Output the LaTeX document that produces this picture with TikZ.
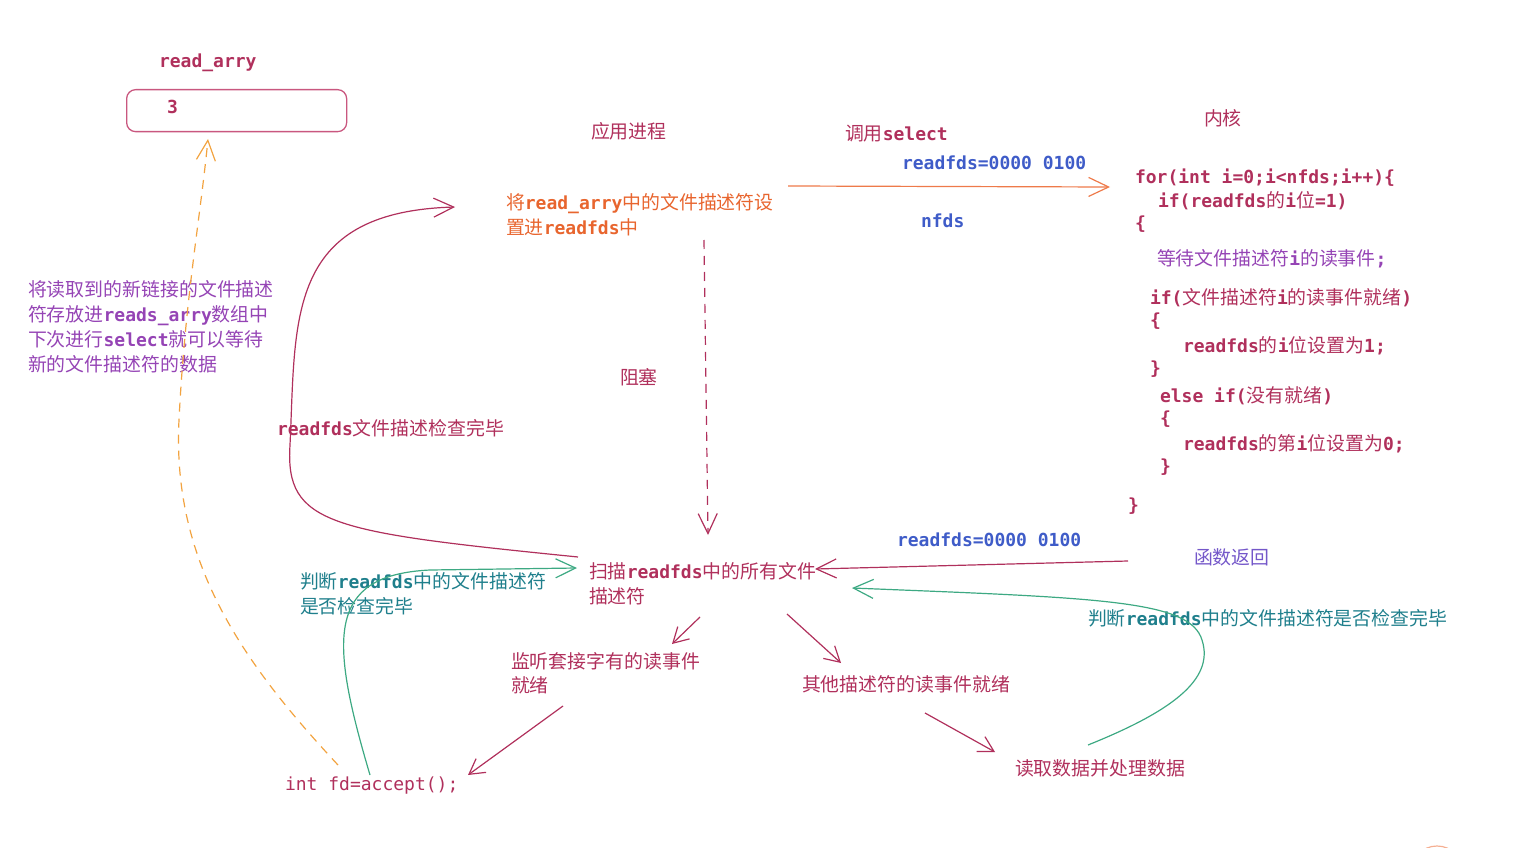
\documentclass[tikz,border=0pt]{standalone}
\usepackage{fontspec}
\usetikzlibrary{arrows.meta}
\setmainfont{DejaVu Sans Mono Bold}
\newfontfamily\cjkf{Noto Sans CJK SC}[Scale=1.05]
\newfontfamily\latf{DejaVu Sans Mono Bold}
\newfontfamily\latr{DejaVu Sans Mono}
\XeTeXinterchartokenstate=1
\newXeTeXintercharclass\cjkcls
\newcount\cjkc
\cjkc="4E00
\loop
  \XeTeXcharclass\cjkc=\cjkcls
  \advance\cjkc by 1
\ifnum\cjkc<"A000 \repeat
\XeTeXinterchartoks 0 \cjkcls = {\cjkf}
\XeTeXinterchartoks 4095 \cjkcls = {\cjkf}
\XeTeXinterchartoks \cjkcls 0 = {\latf}
\XeTeXinterchartoks \cjkcls 4095 = {\latf}
\definecolor{crim}{HTML}{B0305C}
\definecolor{orangeT}{HTML}{E8652E}
\definecolor{orangeA}{HTML}{EE7A4A}
\definecolor{blueT}{HTML}{3F5CC8}
\definecolor{purpT}{HTML}{9544B5}
\definecolor{violetT}{HTML}{7457C9}
\definecolor{tealT}{HTML}{1F7F8C}
\definecolor{greenA}{HTML}{3DA983}
\definecolor{dashO}{HTML}{F2A340}
\definecolor{boxC}{HTML}{C9577F}
\tikzset{
  txt/.style={inner sep=0pt, outer sep=0pt, anchor=west, font=\fontsize{18}{24.5}\selectfont},
  barb/.style={-{Straight Barb[length=20pt,width=19pt]}, line width=1.2pt},
  barbS/.style={-{Straight Barb[length=15pt,width=17pt]}, line width=1.2pt},
  dashline/.style={dash pattern=on 9pt off 7pt},
}
\begin{document}
\begin{tikzpicture}[x=1pt,y=-1pt]
\useasboundingbox (0,0) rectangle (1513,848);

% top-left array
\node[txt, text=crim] (ra) at (159,63) {read\_arry};
\node[draw=boxC, line width=1.3pt, rounded corners=9pt, minimum width=220pt, minimum height=42pt, anchor=north west, inner sep=0pt] (box) at (126,89) {};
\node[txt, text=crim] (three) at (167,107) {3};

% headings
\node[txt, text=crim] (app) at (591,131) {应用进程};
\node[txt, text=crim] (sel) at (845,134) {调用select};
\node[txt, text=blueT] (rf1) at (902,163) {readfds=0000 0100};
\node[txt, text=blueT] (nfds) at (921,221) {nfds};
\node[txt, text=crim] (kern) at (1204,118) {内核};

\node[txt, text=orangeT, align=left] (put) at (506,214.5) {将read\_arry中的文件描述符设\\置进readfds中};
\node[txt, text=crim] (block) at (620,377) {阻塞};
\node[txt, text=crim] (chk) at (277,428) {readfds文件描述检查完毕};
\node[txt, text=purpT, align=left, font=\fontsize{18}{25}\selectfont] (note) at (28,326.5) {将读取到的新链接的文件描述\\符存放进reads\_arry数组中\\下次进行select就可以等待\\新的文件描述符的数据};

% kernel code
\node[txt, text=crim] (c1) at (1135,178) {for(int i=0;i<nfds;i++)\{};
\node[txt, text=crim] (c2) at (1158,201) {if(readfds的i位=1)};
\node[txt, text=crim] (c3) at (1135,224) {\{};
\node[txt, text=purpT] (c4) at (1157,259) {等待文件描述符i的读事件;};
\node[txt, text=crim] (c5) at (1150,298) {if(文件描述符i的读事件就绪)};
\node[txt, text=crim] (c6) at (1150,321) {\{};
\node[txt, text=crim] (c7) at (1183,346) {readfds的i位设置为1;};
\node[txt, text=crim] (c8) at (1150,369) {\}};
\node[txt, text=crim] (c9) at (1160,396) {else if(没有就绪)};
\node[txt, text=crim] (c10) at (1160,419) {\{};
\node[txt, text=crim] (c11) at (1183,444) {readfds的第i位设置为0;};
\node[txt, text=crim] (c12) at (1160,467) {\}};
\node[txt, text=crim] (c13) at (1128,506) {\}};

% lower part
\node[txt, text=tealT, align=left] (judge1) at (300,594) {判断readfds中的文件描述符\\是否检查完毕};
\node[txt, text=crim, align=left] (scan) at (589,583.5) {扫描readfds中的所有文件\\描述符};
\node[txt, text=blueT] (rf2) at (897,540) {readfds=0000 0100};
\node[txt, text=violetT] (ret) at (1194,557) {函数返回};
\node[txt, text=tealT] (judge2) at (1088,618) {判断readfds中的文件描述符是否检查完毕};
\node[txt, text=crim, align=left] (listen) at (511,673.5) {监听套接字有的读事件\\就绪};
\node[txt, text=crim] (other) at (802,684) {其他描述符的读事件就绪};
\node[txt, text=crim, font=\fontsize{18}{24.5}\latr] (acc) at (285,786) {int fd=accept();};
\node[txt, text=crim] (rd) at (1015,768) {读取数据并处理数据};

% connector ends
\coordinate (selS) at (788,186);
\coordinate (selE) at (1110,187);
\coordinate (blkS) at (704,240);
\coordinate (blkE) at (708,535);
\coordinate (loopS) at (578,557);
\coordinate (loopE) at (455,207);
\coordinate (accS) at (338,765);
\coordinate (boxE) at (208,139);
\coordinate (gS) at (370,775);
\coordinate (gE) at (577,568);
\coordinate (retS) at (1128,561);
\coordinate (retE) at (815,569);
\coordinate (g2S) at (1088,745);
\coordinate (g2E) at (852,588);
\coordinate (a1S) at (700,617);
\coordinate (a1E) at (672,644);
\coordinate (a2S) at (787,614);
\coordinate (a2E) at (841,663);
\coordinate (a3S) at (563,706);
\coordinate (a3E) at (468,775);
\coordinate (a4S) at (925,713);
\coordinate (a4E) at (995,752);

% connectors
\draw[orangeA, barb] (selS) -- (selE);
\draw[crim, barb, dashline] (blkS) -- (blkE);
\draw[crim, barb] (loopS) .. controls (330,532) and (285,525) .. (290,445) .. controls (296,320) and (285,212) .. (loopE);
\draw[dashO, barb, dashline] (accS) .. controls (240,660) and (172,560) .. (179,420) .. controls (185,300) and (200,220) .. (boxE);
\draw[greenA, barb] (gS) .. controls (330,640) and (325,575) .. (430,570) -- (gE);
\draw[crim, barb] (retS) -- (retE);
\draw[greenA, barb] (g2S) .. controls (1170,712) and (1215,680) .. (1202,640) .. controls (1190,600) and (1100,598) .. (g2E);
\draw[crim, barbS] (a1S) -- (a1E);
\draw[crim, barbS] (a2S) -- (a2E);
\draw[crim, barbS] (a3S) -- (a3E);
\draw[crim, barbS] (a4S) -- (a4E);

% partial shape at bottom right edge
\begin{scope}
\clip (0,0) rectangle (1513,848);
\draw[orangeA!60, line width=1.2pt] (1437,872) circle (26pt);
\end{scope}
\end{tikzpicture}
\end{document}
